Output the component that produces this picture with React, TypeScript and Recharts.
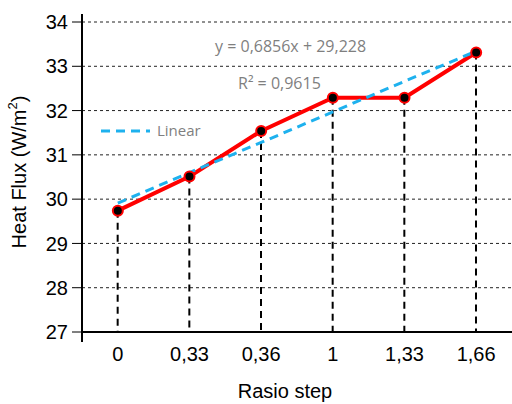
import React from 'react';
import { ComposedChart, Line, Bar, XAxis, YAxis, CartesianGrid, Customized } from 'recharts';

const categories = ['0', '0,33', '0,36', '1', '1,33', '1,66'];
const heatFlux = [29.74, 30.51, 31.54, 32.29, 32.29, 33.31];
// Excel linear trendline values
const linearFit = [29.91, 30.6, 31.28, 31.97, 32.66, 33.34];
const yTicks = [27, 28, 29, 30, 31, 32, 33, 34];
const Y_MIN = 27;
const Y_MAX = 34;

const data = categories.map((name, i) => ({ name, flux: heatFlux[i], fit: linearFit[i] }));

const FONT = '"Liberation Sans", Arial, sans-serif';
const NOTE_FONT = '"Open Sans", sans-serif';

const DropLine = (props: any) => {
  const { x, y, width, height } = props;
  const cx = x + width / 2;
  return (
    <line x1={cx} x2={cx} y1={y} y2={y + height} stroke="#000" strokeWidth={2} strokeDasharray="7 5" />
  );
};

const YLabel = (props: any) => {
  const { viewBox } = props;
  const cx = viewBox.x + 19;
  const cy = viewBox.y + viewBox.height / 2 - 5;
  return (
    <text
      x={cx}
      y={cy}
      transform={`rotate(-90, ${cx}, ${cy})`}
      textAnchor="middle"
      dominantBaseline="central"
      fontFamily={FONT}
      fontSize={20}
      fill="#000"
    >
      Heat Flux (W/m<tspan fontSize={13} dy={-7}>2</tspan>
      <tspan dy={7}>)</tspan>
    </text>
  );
};

const XLabel = (props: any) => {
  const { viewBox } = props;
  return (
    <text
      x={285}
      y={viewBox.y + 66}
      textAnchor="middle"
      fontFamily={FONT}
      fontSize={20}
      fill="#000"
    >
      Rasio step
    </text>
  );
};

const Notes = () => (
  <g>
    {/* axis stubs sticking out past the plot, as in the original */}
    <line x1={82} x2={82} y1={14} y2={23} stroke="#000" strokeWidth={2} />
    <line x1={82} x2={82} y1={331} y2={342} stroke="#000" strokeWidth={2} />
    <g fontFamily={NOTE_FONT} fill="#7f7f7f">
      <text x={215} y={52} fontSize={16}>
        y = 0,6856x + 29,228
      </text>
      <text x={238} y={89} fontSize={16}>
        R² = 0,9615
      </text>
      <line x1={101} x2={150} y1={131} y2={131} stroke="#1EB1EE" strokeWidth={3} strokeDasharray="9 6" />
      <text x={157} y={136} fontSize={15}>
        Linear
      </text>
    </g>
  </g>
);

export default function App() {
  return (
    <div style={{ position: 'absolute', left: 0, top: 0 }}>
      <ComposedChart width={512} height={404} data={data} margin={{ top: 22, right: 0, bottom: 42, left: 0 }}>
        <CartesianGrid vertical={false} stroke="#222" strokeDasharray="3 3" />
        <XAxis
          dataKey="name"
          type="category"
          height={30}
          axisLine={{ stroke: '#000', strokeWidth: 2 }}
          tickLine={false}
          tickSize={0}
          tickMargin={15}
          interval={0}
          tick={{ fill: '#000', fontSize: 20, fontFamily: FONT }}
          label={<XLabel />}
        />
        <YAxis
          domain={[Y_MIN, Y_MAX]}
          ticks={yTicks}
          interval={0}
          width={82}
          axisLine={{ stroke: '#000', strokeWidth: 2 }}
          tickLine={{ stroke: '#000' }}
          tickSize={10}
          tickMargin={4}
          tick={{ fill: '#000', fontSize: 20, fontFamily: FONT }}
          label={<YLabel />}
        />
        <Bar dataKey={(d: any) => [Y_MIN, d.flux]} shape={DropLine} isAnimationActive={false} />
        <Line
          type="linear"
          dataKey="flux"
          stroke="#FF0000"
          strokeWidth={4}
          dot={{ r: 5, fill: '#000', stroke: '#FF0000', strokeWidth: 2 }}
          activeDot={false}
          isAnimationActive={false}
        />
        <Line
          type="linear"
          dataKey="fit"
          stroke="#1EB1EE"
          strokeWidth={3}
          strokeDasharray="9 6"
          dot={false}
          activeDot={false}
          isAnimationActive={false}
        />
        <Customized component={Notes} />
      </ComposedChart>
    </div>
  );
}
